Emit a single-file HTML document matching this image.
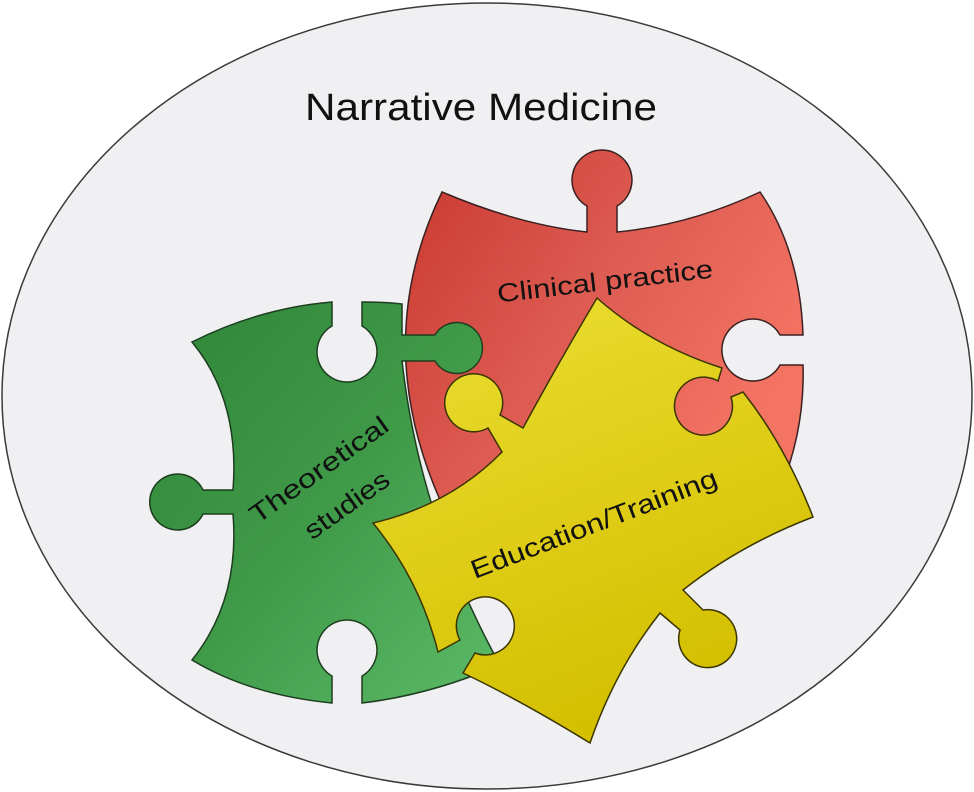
<!DOCTYPE html>
<html><head><meta charset="utf-8"><style>
html,body{margin:0;padding:0;background:#fff;}
svg{display:block;}
text{font-family:"Liberation Sans",sans-serif;fill:#111;}
</style></head><body>
<svg width="974" height="792" viewBox="0 0 974 792" xmlns="http://www.w3.org/2000/svg">
<defs>
<linearGradient id="gg" x1="0" y1="0" x2="1" y2="1">
<stop offset="0" stop-color="#2f8438"/><stop offset="0.5" stop-color="#3f9a48"/><stop offset="1" stop-color="#5cbb68"/></linearGradient>
<linearGradient id="rg" x1="0" y1="0" x2="1" y2="0.6">
<stop offset="0" stop-color="#c8372f"/><stop offset="0.5" stop-color="#dc5a50"/><stop offset="1" stop-color="#f47464"/></linearGradient>
<linearGradient id="yg" x1="0" y1="0" x2="0.4" y2="1">
<stop offset="0" stop-color="#ecdf35"/><stop offset="1" stop-color="#d4bf00"/></linearGradient>
</defs>
<ellipse cx="487" cy="396" rx="485" ry="393" fill="#f0f0f2" stroke="#3a3a3a" stroke-width="1.5"/>
<text x="481" y="120" font-size="38" text-anchor="middle" textLength="352" lengthAdjust="spacingAndGlyphs">Narrative Medicine</text>

<path d="M442,192 Q520,225 587,232 L587,206 A30,30 0 1 1 617,206 L617,232 Q690,225 760,192 Q800,250 803,335 L780,335 A31,31 0 1 0 780,365 L803,365 Q805,430 780,490 L440,500 Q370,340 442,192 Z" fill="url(#rg)" stroke="#3a2020" stroke-width="1.5"/>

<path d="M192,342 Q260,308 332,302 L332,326 A30,30 0 1 0 362,326 L362,302 Q385,302 402,304 L402,335 L435,335 A25.5,25.5 0 1 1 435,361 L402,361 Q420,520 500,665 Q430,695 362,703 L362,676 A30,30 0 1 0 332,676 L332,703 Q250,695 192,660 Q240,600 233,514 L203,514 A28,28 0 1 1 203,490 L233,490 Q240,400 192,342 Z" fill="url(#gg)" stroke="#1d3d1f" stroke-width="1.5"/>

<path d="M597,298 Q650,345 722,368 L718,381 A29,29 0 1 0 731,397 L743,392 Q785,445 813,517 Q740,545 683,590 L703,610 A29,29 0 1 1 680,630 L660,613 Q615,670 590,743 Q520,700 463,673 L475,653 A29,29 0 1 0 460,640 L438,652 Q420,580 373,523 Q450,505 502,452 L488,428 A29,29 0 1 1 500,415 L523,428 Q560,360 597,298 Z" fill="url(#yg)" stroke="#3a3500" stroke-width="1.5"/>

<text transform="translate(606,290) rotate(-6.6)" font-size="26" text-anchor="middle" textLength="217" lengthAdjust="spacingAndGlyphs">Clinical practice</text>
<text transform="translate(324,477) rotate(-35.5)" font-size="26" text-anchor="middle" textLength="164" lengthAdjust="spacingAndGlyphs">Theoretical</text>
<text transform="translate(352,512) rotate(-35.5)" font-size="26" text-anchor="middle" textLength="98" lengthAdjust="spacingAndGlyphs">studies</text>
<text transform="translate(597,532) rotate(-21)" font-size="26" text-anchor="middle" textLength="262" lengthAdjust="spacingAndGlyphs">Education/Training</text>
</svg>
</body></html>
